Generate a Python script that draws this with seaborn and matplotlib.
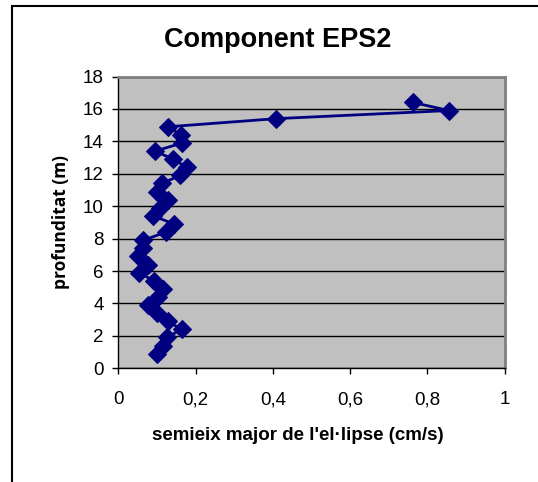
import numpy as np
import pandas as pd
import matplotlib
matplotlib.use('Agg')
import matplotlib.pyplot as plt
import seaborn as sns
from matplotlib.patches import Rectangle

# Data (depth in m, semi-major axis in cm/s)
depth = [0.9, 1.4, 1.9, 2.4, 2.9, 3.4, 3.9, 4.4, 4.9, 5.4, 5.9, 6.4, 6.9, 7.4,
         7.9, 8.4, 8.9, 9.4, 9.9, 10.4, 10.9, 11.4, 11.9, 12.4, 12.9, 13.4,
         13.9, 14.4, 14.9, 15.4, 15.9, 16.4]
semiaxis = [0.101, 0.116, 0.125, 0.164, 0.128, 0.100, 0.076, 0.103, 0.116, 0.093,
            0.053, 0.076, 0.052, 0.065, 0.065, 0.123, 0.144, 0.091, 0.108, 0.128,
            0.101, 0.112, 0.161, 0.177, 0.142, 0.095, 0.166, 0.162, 0.129, 0.409,
            0.856, 0.763]
xticks = [0, 0.2, 0.4, 0.6, 0.8, 1]
xtick_labels = ['0', '0,2', '0,4', '0,6', '0,8', '1']
yticks = [0, 2, 4, 6, 8, 10, 12, 14, 16, 18]

df = pd.DataFrame({'x': semiaxis, 'y': depth})

sns.set_theme(style='white')
plt.rcParams['font.family'] = ['Liberation Sans', 'DejaVu Sans']
plt.rcParams['text.color'] = 'black'

W, H = 538, 482
fig = plt.figure(figsize=(W / 100, H / 100), dpi=100)
ax = fig.add_axes([118.3 / W, 1 - 368.3 / H, (504.5 - 118.3) / W, (368.3 - 76.5) / H])
ax.set_facecolor('#c0c0c0')

sns.lineplot(data=df, x='x', y='y', sort=False, estimator=None, color='#000080',
             marker='D', markersize=9.5, markeredgecolor='#000080', linewidth=2, ax=ax)

ax.set_xlim(0, 1)
ax.set_ylim(0, 18)
ax.set_xticks(xticks)
ax.set_xticklabels(xtick_labels)
ax.set_yticks(yticks)
ax.yaxis.grid(True, color='black', linewidth=1)
ax.xaxis.grid(False)
ax.set_axisbelow(True)

for side in ['top', 'right']:
    ax.spines[side].set_color('#808080')
    ax.spines[side].set_linewidth(2)
for side in ['left', 'bottom']:
    ax.spines[side].set_color('black')
    ax.spines[side].set_linewidth(1)

ax.tick_params(axis='both', direction='out', length=4.5, width=1, color='black',
               labelsize=13.5, labelcolor='black', left=True, bottom=True)
ax.tick_params(axis='y', pad=6)
ax.tick_params(axis='x', pad=12)
ax.set_xlabel('')
ax.set_ylabel('')

fig.text(278 / W, 1 - 40 / H, 'Component EPS2', fontsize=19.5, fontweight='bold',
         ha='center', va='center', color='black')
fig.text(298 / W, 1 - 436 / H, "semieix major de l'el·lipse (cm/s)", fontsize=13.5,
         fontweight='bold', ha='center', va='center', color='black')
fig.text(61 / W, 1 - 222 / H, 'profunditat (m)', fontsize=12.5, fontweight='bold',
         rotation=90, ha='center', va='center', color='black',
         family=['Open Sans', 'DejaVu Sans'])

# chart area border like the spreadsheet chart
fig.patches.append(Rectangle((12 / W, -0.1), 2, 1 - 6 / H + 0.1,
                             transform=fig.transFigure, fill=False,
                             edgecolor='black', linewidth=1.5))

fig.savefig('out.png', dpi=100)
